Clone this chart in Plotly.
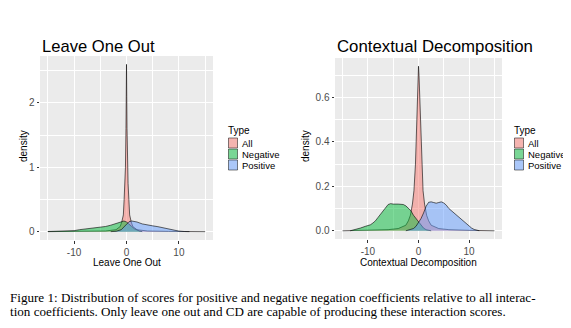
import plotly.graph_objects as go

# Leave One Out densities
loo_all_x = [-15, -8, -4, -2, -1.2, -0.9, -0.6, -0.45, -0.3, -0.2, -0.1, -0.05, 0, 0.05, 0.1, 0.2, 0.3, 0.45, 0.6, 0.9, 1.2, 2, 4, 8, 15]
loo_all_y = [0, 0.004, 0.01, 0.03, 0.08, 0.15, 0.26, 0.5, 0.75, 1.0, 1.6, 2.1, 2.6, 2.1, 1.6, 1.0, 0.75, 0.5, 0.26, 0.15, 0.08, 0.03, 0.01, 0.004, 0]
loo_neg_x = [-15, -12, -10, -9, -8, -6, -5, -4, -3, -2, -1.5, -1, -0.5, 0, 0.5, 1, 1.5, 2, 2.5, 3]
loo_neg_y = [0.002, 0.006, 0.015, 0.03, 0.04, 0.05, 0.065, 0.08, 0.1, 0.125, 0.145, 0.16, 0.165, 0.15, 0.12, 0.08, 0.045, 0.02, 0.008, 0]
loo_pos_x = [-3, -2, -1, -0.5, 0, 0.5, 1, 1.5, 2, 3, 4, 5, 6, 7, 8, 9, 10, 11, 12]
loo_pos_y = [0, 0.005, 0.03, 0.07, 0.12, 0.155, 0.165, 0.16, 0.15, 0.12, 0.1, 0.09, 0.077, 0.06, 0.04, 0.02, 0.008, 0.002, 0]

# Contextual Decomposition densities
cd_all_x = [-15, -10, -6, -4, -2.5, -2, -1.6, -1.2, -0.9, -0.6, -0.45, -0.25, -0.1, 0, 0.1, 0.25, 0.45, 0.6, 0.9, 1.2, 1.6, 2, 2.5, 4, 6, 10, 15]
cd_all_y = [0, 0.002, 0.005, 0.01, 0.025, 0.045, 0.07, 0.12, 0.18, 0.3, 0.42, 0.6, 0.7, 0.74, 0.7, 0.6, 0.42, 0.3, 0.18, 0.12, 0.07, 0.045, 0.025, 0.01, 0.005, 0.002, 0]
cd_neg_x = [-13.5, -12.5, -11.5, -10.5, -9.5, -9, -8.5, -8, -7.5, -7, -6.5, -6, -5.5, -5, -4, -3, -2.5, -2, -1.5, -1, -0.5, 0, 0.5, 1, 1.5, 2.5]
cd_neg_y = [0, 0.005, 0.012, 0.02, 0.027, 0.035, 0.045, 0.06, 0.075, 0.09, 0.105, 0.118, 0.122, 0.12, 0.12, 0.118, 0.112, 0.1, 0.09, 0.07, 0.055, 0.038, 0.025, 0.012, 0.005, 0]
cd_pos_x = [-2.5, -1.5, -1, -0.5, 0, 0.5, 1, 1.5, 2, 2.5, 3, 3.5, 4, 4.5, 5, 5.5, 6, 6.5, 7, 7.5, 8, 8.5, 9, 9.5, 10, 10.5, 11, 12]
cd_pos_y = [0, 0.005, 0.01, 0.02, 0.035, 0.055, 0.08, 0.11, 0.128, 0.13, 0.127, 0.124, 0.127, 0.13, 0.125, 0.115, 0.1, 0.09, 0.08, 0.07, 0.06, 0.05, 0.04, 0.03, 0.02, 0.012, 0.006, 0]

types = ["All", "Negative", "Positive"]
fills = ["rgba(248,118,109,0.5)", "rgba(0,186,56,0.5)", "rgba(97,156,255,0.5)"]

# the page body has an 8px margin, so the figure starts at (8, 8) in the window
OFF = 8
W, H = 571 - OFF, 328 - OFF
def px(x): return (x - OFF) / W
def py(y): return 1 - (y - OFF) / H

fig = go.Figure()
panels = [
    ("x", "y", [(loo_all_x, loo_all_y), (loo_neg_x, loo_neg_y), (loo_pos_x, loo_pos_y)]),
    ("x2", "y2", [(cd_all_x, cd_all_y), (cd_neg_x, cd_neg_y), (cd_pos_x, cd_pos_y)]),
]
for xa, ya, series in panels:
    for (xs, ys), name, fc in zip(series, types, fills):
        fig.add_trace(go.Scatter(x=xs, y=ys, xaxis=xa, yaxis=ya, mode="lines", fill="tozeroy",
                                 fillcolor=fc, line=dict(color="rgba(0,0,0,0.85)", width=0.7),
                                 name=name, showlegend=False, hoverinfo="skip"))

tickfont = dict(family="Liberation Sans", size=10, color="#4d4d4d")
def xax(dom, anchor):
    return dict(domain=dom, anchor=anchor, range=[-16.5, 16.5], tickvals=[-10, 0, 10],
                ticktext=["-10", "0", "10"], showgrid=True, gridcolor="white", gridwidth=1,
                minor=dict(tickvals=[-15, -5, 5, 15], showgrid=True, gridcolor="white", gridwidth=0.5),
                zeroline=False, showline=False, ticks="outside", ticklen=2.5, tickcolor="#333333",
                tickfont=tickfont, fixedrange=True)
def yax(dom, anchor, rng, tv, tt, minor):
    return dict(domain=dom, anchor=anchor, range=rng, tickvals=tv, ticktext=tt,
                showgrid=True, gridcolor="white", gridwidth=1,
                minor=dict(tickvals=minor, showgrid=True, gridcolor="white", gridwidth=0.5),
                zeroline=False, showline=False, ticks="outside", ticklen=2.5, tickcolor="#333333",
                tickfont=tickfont, fixedrange=True)

ann = []
shapes = []
def text(x, y, s, size, xanchor="left", color="black", family="Liberation Sans", angle=0):
    ann.append(dict(x=px(x), y=py(y), xref="paper", yref="paper", text=s, showarrow=False,
                    xanchor=xanchor, yanchor="middle", textangle=angle,
                    font=dict(family=family, size=size, color=color)))

# titles and axis titles
text(40, 46, "Leave One Out", 16.6)
text(335, 46, "Contextual Decomposition", 16.8)
text(23, 146, "density", 10, xanchor="center", angle=-90)
text(305, 146, "density", 10, xanchor="center", angle=-90)
text(127, 262, "Leave One Out", 10, xanchor="center")
text(418, 262, "Contextual Decomposition", 10, xanchor="center")

# legends
for lx in (227, 513):
    text(lx - 1, 130, "Type", 10)
    for i, (name, fc) in enumerate(zip(types, fills)):
        top = 137.5 + i * 11
        shapes.append(dict(type="rect", xref="paper", yref="paper", x0=px(lx + 1), x1=px(lx + 11),
                           y0=py(top + 11), y1=py(top), fillcolor="#f2f2f2", line=dict(width=0)))
        shapes.append(dict(type="rect", xref="paper", yref="paper", x0=px(lx + 1.5), x1=px(lx + 10.5),
                           y0=py(top + 10.5), y1=py(top + 0.5), fillcolor=fc,
                           line=dict(color="rgba(0,0,0,0.6)", width=0.8)))
        text(lx + 13, top + 5.5, name, 9.5)

# caption
text(8, 297.5, "Figure 1: Distribution of scores for positive and negative negation coefficients relative to all interac-",
     13.1, family="Liberation Serif")
text(8, 311, "tion coefficients. Only leave one out and CD are capable of producing these interaction scores.",
     13.1, family="Liberation Serif")

fig.update_layout(
    width=W, height=H, margin=dict(l=0, r=0, t=0, b=0),
    paper_bgcolor="white", plot_bgcolor="#ebebeb", showlegend=False,
    xaxis=xax([px(40), px(213)], "y"),
    yaxis=yax([py(240), py(56)], "x", [-0.13, 2.73], [0, 1, 2], ["0", "1", "2"], [0.5, 1.5, 2.5]),
    xaxis2=xax([px(335), px(502)], "y2"),
    yaxis2=yax([py(239), py(58)], "x2", [-0.037, 0.777], [0, 0.2, 0.4, 0.6], ["0.0", "0.2", "0.4", "0.6"],
               [0.1, 0.3, 0.5, 0.7]),
    annotations=ann, shapes=shapes,
)
fig.write_html("out.html")
